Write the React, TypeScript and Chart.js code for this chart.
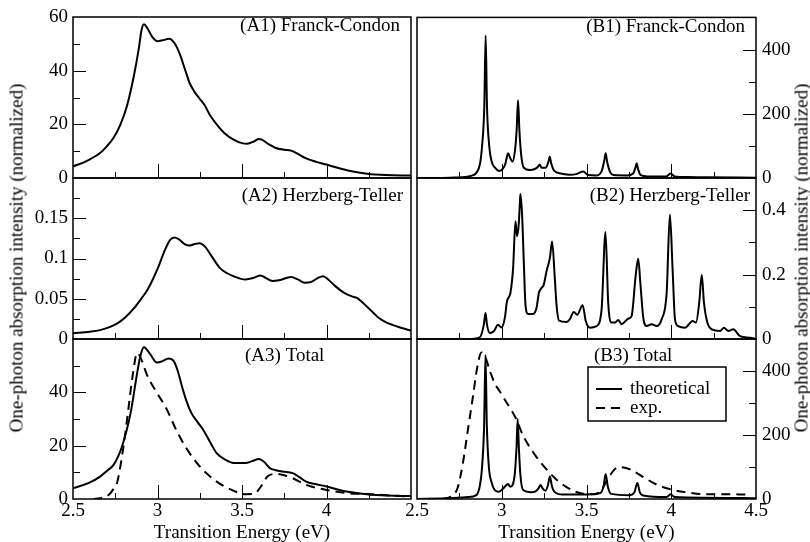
import React, { useEffect, useRef } from 'react';
import { Chart, registerables } from 'chart.js';

Chart.register(...registerables);

const SERIF = '"Liberation Serif", "Times New Roman", Times, serif';
const FS = 19;
const W = 810;
const H = 542;

// ---------- Data ----------
// (A1) Franck-Condon, broadened
const energyFcA = [2.50, 2.58, 2.66, 2.70, 2.74, 2.78, 2.82, 2.86, 2.89, 2.905, 2.92, 2.94, 2.97, 3.00, 3.03, 3.07, 3.10, 3.13, 3.16, 3.19, 3.22, 3.25, 3.28, 3.31, 3.35, 3.40, 3.45, 3.50, 3.53, 3.57, 3.60, 3.62, 3.66, 3.70, 3.75, 3.79, 3.83, 3.88, 3.94, 4.00, 4.07, 4.14, 4.24, 4.35, 4.50];
const intensityFcA = [4.3, 6.3, 9.3, 11.8, 15, 19.8, 27, 38, 48.5, 55, 57.3, 55.8, 52.5, 51, 51.3, 51.9, 50.3, 46.5, 41, 35.4, 32, 29.5, 27, 23.5, 20, 16.5, 14.3, 13, 12.8, 13.6, 14.5, 14.2, 12.5, 11.2, 10.5, 10.2, 9, 7.3, 6, 5.0, 3.7, 2.6, 1.6, 1.1, 0.9];

// (A2) Herzberg-Teller, broadened
const energyHtA = [2.50, 2.60, 2.66, 2.72, 2.76, 2.81, 2.86, 2.90, 2.94, 2.97, 3.00, 3.045, 3.075, 3.10, 3.125, 3.16, 3.19, 3.22, 3.25, 3.28, 3.32, 3.37, 3.41, 3.45, 3.52, 3.57, 3.61, 3.64, 3.68, 3.72, 3.79, 3.83, 3.87, 3.91, 3.95, 3.98, 4.01, 4.05, 4.10, 4.15, 4.18, 4.21, 4.24, 4.28, 4.31, 4.35, 4.39, 4.44, 4.50];
const intensityHtA = [0.007, 0.009, 0.011, 0.015, 0.019, 0.027, 0.038, 0.049, 0.061, 0.073, 0.087, 0.111, 0.123, 0.126, 0.124, 0.118, 0.116, 0.118, 0.119, 0.115, 0.103, 0.088, 0.082, 0.078, 0.074, 0.076, 0.079, 0.076, 0.072, 0.073, 0.077, 0.074, 0.070, 0.071, 0.076, 0.078, 0.074, 0.066, 0.058, 0.053, 0.051, 0.046, 0.040, 0.032, 0.026, 0.021, 0.0175, 0.014, 0.0104];

// (A3) Total theoretical + experiment
const energyTotA = [2.50, 2.60, 2.66, 2.70, 2.74, 2.79, 2.84, 2.88, 2.90, 2.92, 2.957, 2.996, 3.03, 3.065, 3.095, 3.12, 3.144, 3.17, 3.20, 3.235, 3.27, 3.31, 3.35, 3.40, 3.45, 3.52, 3.56, 3.60, 3.63, 3.665, 3.70, 3.74, 3.80, 3.84, 3.88, 3.94, 4.00, 4.10, 4.24, 4.36, 4.50];
const intensityTotA = [4.0, 6.2, 8.4, 10.5, 12.8, 19.7, 32, 47.4, 54, 56.9, 54.3, 51.2, 51.7, 52.7, 51.8, 48, 42.4, 37, 32.3, 29, 26, 21.5, 17.2, 14.8, 13.5, 13.5, 14.2, 15, 14, 11.6, 10.8, 10.3, 9.7, 8.2, 6.5, 5.5, 4.7, 3.0, 1.8, 1.3, 1.1];
const energyExpA = [2.62, 2.66, 2.70, 2.72, 2.74, 2.76, 2.79, 2.82, 2.85, 2.88, 2.90, 2.94, 2.996, 3.055, 3.11, 3.17, 3.25, 3.35, 3.45, 3.52, 3.57, 3.61, 3.65, 3.70, 3.75, 3.80, 3.88, 4.00, 4.14, 4.24, 4.33, 4.49];
const intensityExpA = [0, 0.3, 1.0, 2.1, 3.8, 5.9, 16, 29.8, 44.9, 54.8, 53, 46.2, 39.9, 33.6, 26, 19.1, 12.2, 6.5, 3.1, 1.8, 1.9, 4.5, 8.4, 9.4, 8.9, 7.8, 5.3, 3.4, 2.1, 1.9, 1.5, 0.9];

// (B1) Franck-Condon, narrow lines
const energyFcB = [2.50, 2.70, 2.78, 2.82, 2.85, 2.872, 2.884, 2.897, 2.905, 2.913, 2.926, 2.94, 2.96, 2.985, 3.005, 3.02, 3.03, 3.037, 3.045, 3.063, 3.078, 3.088, 3.096, 3.104, 3.114, 3.13, 3.165, 3.195, 3.215, 3.224, 3.235, 3.26, 3.275, 3.283, 3.292, 3.31, 3.35, 3.40, 3.44, 3.48, 3.51, 3.56, 3.59, 3.605, 3.613, 3.622, 3.64, 3.66, 3.74, 3.775, 3.79, 3.796, 3.803, 3.82, 3.86, 3.97, 3.996, 4.02, 4.10, 4.20, 4.50];
const intensityFcB = [0, 1, 3, 7, 16, 45, 100, 222, 444, 222, 100, 52, 32, 22, 28, 42, 65, 77, 68, 51, 85, 150, 242, 150, 75, 32, 25, 28, 36, 42, 32, 32, 50, 66, 45, 22, 14, 10, 12, 20, 9, 8, 22, 55, 77, 50, 18, 9, 8, 14, 35, 46, 30, 9, 5, 5, 14, 5, 3, 2, 1];

// (B2) Herzberg-Teller, narrow lines
const energyHtB = [2.50, 2.80, 2.87, 2.894, 2.904, 2.913, 2.929, 2.953, 2.978, 2.998, 3.018, 3.031, 3.051, 3.067, 3.081, 3.09, 3.10, 3.106, 3.11, 3.12, 3.13, 3.14, 3.155, 3.185, 3.205, 3.219, 3.234, 3.248, 3.264, 3.284, 3.297, 3.313, 3.323, 3.338, 3.382, 3.40, 3.425, 3.445, 3.477, 3.496, 3.52, 3.559, 3.589, 3.612, 3.628, 3.648, 3.667, 3.687, 3.707, 3.746, 3.766, 3.79, 3.805, 3.819, 3.835, 3.855, 3.884, 3.914, 3.943, 3.973, 3.992, 4.008, 4.022, 4.041, 4.081, 4.126, 4.146, 4.165, 4.18, 4.193, 4.213, 4.239, 4.288, 4.311, 4.337, 4.366, 4.406, 4.465, 4.50];
const intensityHtB = [0, 0, 0.005, 0.044, 0.081, 0.044, 0.019, 0.024, 0.044, 0.036, 0.065, 0.117, 0.143, 0.22, 0.366, 0.319, 0.355, 0.412, 0.45, 0.386, 0.241, 0.107, 0.078, 0.078, 0.096, 0.143, 0.158, 0.169, 0.21, 0.252, 0.303, 0.189, 0.107, 0.057, 0.053, 0.06, 0.084, 0.075, 0.105, 0.055, 0.035, 0.04, 0.092, 0.332, 0.113, 0.051, 0.051, 0.059, 0.046, 0.063, 0.071, 0.196, 0.249, 0.165, 0.066, 0.04, 0.046, 0.04, 0.061, 0.144, 0.387, 0.216, 0.061, 0.04, 0.035, 0.056, 0.051, 0.113, 0.199, 0.113, 0.051, 0.03, 0.025, 0.035, 0.025, 0.03, 0.009, 0.004, 0];

// (B3) Total theoretical + experiment
const energyTotB = [2.50, 2.673, 2.80, 2.85, 2.872, 2.884, 2.896, 2.904, 2.912, 2.924, 2.94, 2.959, 2.984, 3.008, 3.025, 3.037, 3.05, 3.065, 3.078, 3.087, 3.094, 3.101, 3.11, 3.126, 3.175, 3.20, 3.218, 3.229, 3.24, 3.258, 3.272, 3.284, 3.296, 3.31, 3.362, 3.46, 3.579, 3.60, 3.613, 3.626, 3.645, 3.756, 3.782, 3.80, 3.815, 3.835, 3.973, 3.996, 4.02, 4.435, 4.50];
const intensityTotB = [0, 2, 6, 12, 45, 100, 230, 450, 230, 100, 52, 28, 23, 33, 42, 47, 38, 45, 85, 160, 250, 160, 75, 28, 21, 24, 34, 44, 34, 26, 42, 70, 40, 23, 14, 14, 18, 38, 78, 38, 16, 12, 20, 50, 20, 11, 6, 15, 6, 3, 2];
const energyExpB = [2.65, 2.70, 2.74, 2.77, 2.80, 2.83, 2.855, 2.88, 2.90, 2.93, 2.96, 2.99, 3.03, 3.06, 3.09, 3.12, 3.15, 3.20, 3.26, 3.32, 3.38, 3.44, 3.50, 3.55, 3.59, 3.63, 3.69, 3.76, 3.84, 3.91, 3.99, 4.09, 4.19, 4.31, 4.44];
const intensityExpB = [0, 8, 35, 110, 215, 320, 410, 458, 448, 400, 360, 335, 300, 275, 245, 205, 175, 135, 95, 62, 38, 22, 15, 15, 30, 67, 100, 92, 67, 46, 31, 21, 15, 15, 14];

// Axis settings
const xMin = 2.5;
const xMax = 4.5;
const xMajorStep = 0.5;
const xMinorStep = 0.25;
const xTitle = 'Transition Energy (eV)';
const yTitle = 'One-photon absorption intensity (normalized)';
const seriesLabels = ['theoretical', 'exp.'];

// ---------- Layout ----------
const COLS = { L: { left: 73, right: 411 }, R: { left: 417, right: 756 } };
const ROWS = [
  { top: 17, bottom: 178 },
  { top: 178, bottom: 339 },
  { top: 339, bottom: 499 },
];

type Series = { label: string; e: number[]; v: number[]; dashed?: boolean };
type PanelDef = {
  col: 'L' | 'R';
  row: number;
  yMax: number;
  yMajor: number;
  yMinor: number;
  hideTop: boolean;
  title: string;
  titleX: number;
  titleY: number;
  titleAlign: 'left' | 'right';
  series: Series[];
  legend?: boolean;
};

const PANELS: PanelDef[] = [
  { col: 'L', row: 0, yMax: 60, yMajor: 20, yMinor: 10, hideTop: false, title: '(A1) Franck-Condon', titleX: 400, titleY: 31, titleAlign: 'right',
    series: [{ label: seriesLabels[0], e: energyFcA, v: intensityFcA }] },
  { col: 'L', row: 1, yMax: 0.2, yMajor: 0.05, yMinor: 0.025, hideTop: true, title: '(A2) Herzberg-Teller', titleX: 403, titleY: 201, titleAlign: 'right',
    series: [{ label: seriesLabels[0], e: energyHtA, v: intensityHtA }] },
  { col: 'L', row: 2, yMax: 60, yMajor: 20, yMinor: 10, hideTop: true, title: '(A3) Total', titleX: 245, titleY: 361, titleAlign: 'left',
    series: [
      { label: seriesLabels[0], e: energyTotA, v: intensityTotA },
      { label: seriesLabels[1], e: energyExpA, v: intensityExpA, dashed: true },
    ] },
  { col: 'R', row: 0, yMax: 500, yMajor: 200, yMinor: 100, hideTop: true, title: '(B1) Franck-Condon', titleX: 745, titleY: 32, titleAlign: 'right',
    series: [{ label: seriesLabels[0], e: energyFcB, v: intensityFcB }] },
  { col: 'R', row: 1, yMax: 0.5, yMajor: 0.2, yMinor: 0.1, hideTop: true, title: '(B2) Herzberg-Teller', titleX: 750, titleY: 201, titleAlign: 'right',
    series: [{ label: seriesLabels[0], e: energyHtB, v: intensityHtB }] },
  { col: 'R', row: 2, yMax: 500, yMajor: 200, yMinor: 100, hideTop: true, title: '(B3) Total', titleX: 594, titleY: 361, titleAlign: 'left', legend: true,
    series: [
      { label: seriesLabels[0], e: energyTotB, v: intensityTotB },
      { label: seriesLabels[1], e: energyExpB, v: intensityExpB, dashed: true },
    ] },
];

const DASH = [9, 6];
const fmt = (v: number) => String(parseFloat(Number(v).toFixed(4)));
const zip = (xs: number[], ys: number[]) => xs.map((x, i) => ({ x, y: ys[i] }));

const panelDecor = {
  id: 'panelDecor',
  afterDraw(chart: any, _args: any, opts: any) {
    const { ctx, chartArea: a, scales } = chart;
    const x = scales.x;
    const y = scales.y;
    ctx.save();
    ctx.strokeStyle = '#000';
    ctx.setLineDash([]);
    ctx.lineWidth = 1;
    ctx.beginPath();
    const nx = Math.round((xMax - xMin) / xMinorStep);
    for (let k = 1; k < nx; k++) {
      const v = xMin + k * xMinorStep;
      const px = Math.round(x.getPixelForValue(v)) + 0.5;
      const r = (v - xMin) / xMajorStep;
      const major = Math.abs(r - Math.round(r)) < 1e-6;
      const len = major ? 14 : 6;
      ctx.moveTo(px, a.bottom);
      ctx.lineTo(px, a.bottom - len);
    }
    const ny = Math.round(opts.yMax / opts.yMinor);
    for (let k = 1; k < ny; k++) {
      const v = k * opts.yMinor;
      const py = Math.round(y.getPixelForValue(v)) + 0.5;
      const r = v / opts.yMajor;
      const major = Math.abs(r - Math.round(r)) < 1e-6;
      const len = major ? 13 : 7;
      if (opts.side === 'left') {
        ctx.moveTo(a.left, py);
        ctx.lineTo(a.left + len, py);
      } else {
        ctx.moveTo(a.right, py);
        ctx.lineTo(a.right - len, py);
      }
    }
    ctx.stroke();
    ctx.lineWidth = 1.5;
    ctx.strokeRect(a.left, a.top, a.right - a.left, a.bottom - a.top);

    ctx.fillStyle = '#000';
    ctx.font = `${FS}px ${SERIF}`;
    ctx.textAlign = opts.titleAlign;
    ctx.textBaseline = 'alphabetic';
    ctx.fillText(opts.title, opts.titleX, opts.titleY);

    if (opts.legend) {
      const bx = 588, by = 367, bw = 138, bh = 54;
      ctx.lineWidth = 1.5;
      ctx.strokeRect(bx, by, bw, bh);
      const rows = [389, 408];
      chart.data.datasets.forEach((ds: any, i: number) => {
        const ly = rows[i];
        ctx.lineWidth = 2;
        ctx.setLineDash(ds.borderDash || []);
        ctx.beginPath();
        ctx.moveTo(596, ly);
        ctx.lineTo(622, ly);
        ctx.stroke();
        ctx.setLineDash([]);
        ctx.textAlign = 'left';
        ctx.textBaseline = 'middle';
        ctx.fillText(ds.label, 630, ly);
      });
    }
    ctx.restore();
  },
};

function buildConfig(p: PanelDef): any {
  const col = COLS[p.col];
  const row = ROWS[p.row];
  const isLeft = p.col === 'L';
  const bottomRow = p.row === 2;
  return {
    type: 'line',
    data: {
      datasets: p.series.map((s) => ({
        label: s.label,
        data: zip(s.e, s.v),
        borderColor: '#000',
        backgroundColor: '#000',
        borderWidth: 2,
        borderDash: s.dashed ? DASH : [],
        pointRadius: 0,
        cubicInterpolationMode: 'monotone',
        fill: false,
      })),
    },
    options: {
      responsive: false,
      animation: false,
      events: [],
      layout: {
        padding: {
          left: isLeft ? 0 : col.left,
          right: isLeft ? W - col.right : 0,
          top: row.top,
          bottom: bottomRow ? 0 : H - row.bottom,
        },
      },
      plugins: {
        legend: { display: false },
        tooltip: { enabled: false },
        panelDecor: {
          side: isLeft ? 'left' : 'right',
          yMax: p.yMax,
          yMajor: p.yMajor,
          yMinor: p.yMinor,
          title: p.title,
          titleX: p.titleX,
          titleY: p.titleY,
          titleAlign: p.titleAlign,
          legend: !!p.legend,
        },
      },
      scales: {
        x: {
          type: 'linear',
          min: xMin,
          max: xMax,
          display: bottomRow,
          grid: { display: false, drawTicks: false },
          border: { display: false },
          ticks: {
            stepSize: xMajorStep,
            autoSkip: false,
            maxRotation: 0,
            minRotation: 0,
            padding: 1,
            color: '#000',
            font: { family: SERIF, size: FS },
            callback: (v: number) => (isLeft && v === xMax ? '' : fmt(v)),
          },
          title: {
            display: bottomRow,
            text: xTitle,
            color: '#000',
            font: { family: SERIF, size: FS, lineHeight: 1 },
            padding: { top: 0, bottom: -1 },
          },
          afterFit: (s: any) => {
            s.height = bottomRow ? H - row.bottom : 0;
          },
        },
        y: {
          type: 'linear',
          position: isLeft ? 'left' : 'right',
          min: 0,
          max: p.yMax,
          grid: { display: false, drawTicks: false },
          border: { display: false },
          ticks: {
            stepSize: p.yMajor,
            autoSkip: false,
            padding: isLeft ? 5 : 6,
            color: '#000',
            font: { family: SERIF, size: FS },
            callback: (v: number) => (p.hideTop && Math.abs(v - p.yMax) < 1e-9 ? '' : fmt(v)),
          },
          afterFit: (s: any) => {
            s.width = isLeft ? col.left : W - col.right;
          },
        },
      },
    },
    plugins: [panelDecor],
  };
}

function PanelCanvas({ def }: { def: PanelDef }) {
  const ref = useRef<HTMLCanvasElement | null>(null);
  useEffect(() => {
    if (!ref.current) return;
    const chart = new Chart(ref.current, buildConfig(def));
    return () => chart.destroy();
  }, [def]);
  return (
    <canvas
      ref={ref}
      width={W}
      height={H}
      style={{ position: 'absolute', left: 0, top: 0, width: W, height: H }}
    />
  );
}

const yTitleStyle = (cx: number): React.CSSProperties => ({
  position: 'absolute',
  left: cx,
  top: 258,
  transform: 'translate(-50%, -50%) rotate(-90deg)',
  whiteSpace: 'nowrap',
  fontFamily: SERIF,
  fontSize: FS,
  lineHeight: `${FS}px`,
  color: '#000',
});

export default function App() {
  return (
    <div style={{ position: 'absolute', left: 0, top: 0, width: W, height: H, background: '#fff', overflow: 'hidden' }}>
      {PANELS.map((p, i) => (
        <PanelCanvas key={i} def={p} />
      ))}
      <div style={yTitleStyle(16)}>{yTitle}</div>
      <div style={yTitleStyle(801)}>{yTitle}</div>
    </div>
  );
}
